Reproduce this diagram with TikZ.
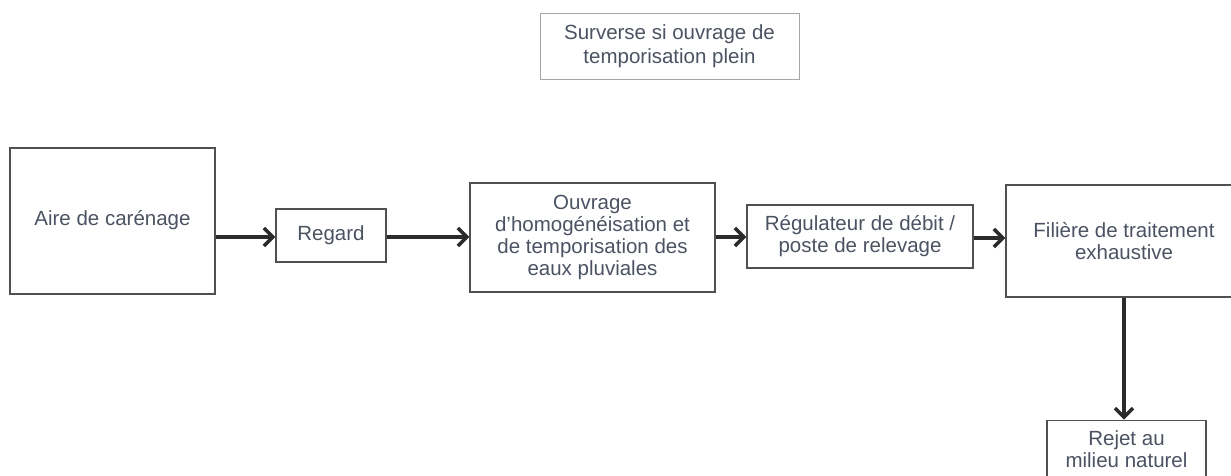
\documentclass[tikz,border=0pt]{standalone}
\usepackage{fontspec}
\setmainfont{Liberation Sans}
\usepackage{xcolor}
\usetikzlibrary{positioning, arrows.meta}

\definecolor{textgray}{HTML}{4B5262}
\definecolor{boxgray}{HTML}{505050}
\definecolor{arrowgray}{HTML}{2B2B2B}

\begin{document}
\begin{tikzpicture}[
		x=1pt, y=-1pt,
		% --- STYLES ---
		box/.style={
			rectangle, draw=boxgray, line width=1.3pt, inner sep=0pt, align=center,
			text=textgray, font=\fontsize{20.5}{22}\selectfont
		},
		notebox/.style={
			box, draw=gray!70, line width=0.9pt, font=\fontsize{20.5}{24.5}\selectfont
		},
		flow/.style={
			draw=arrowgray, line width=3.6pt, -{Straight Barb[length=9pt, width=18pt]}
		}
		]
		
		% page frame (picture is cut at the right and bottom)
		\clip (0,0) rectangle (1231,475);
		
		% ==========================================
		% 1. Overflow note
		% ==========================================
		\node [notebox, minimum width=259pt, minimum height=66pt] (surverse) at (669.5,46) {Surverse si ouvrage de\\temporisation plein};
		
		% ==========================================
		% 2. Main chain
		% ==========================================
		\node [box, minimum width=205pt, minimum height=146pt] (aire) at (112.5,221) {\raisebox{6pt}{Aire de carénage}};
		\node [box, minimum width=110pt, minimum height=53pt] (regard) at (331,235.5) {Regard};
		\node [box, minimum width=245pt, minimum height=109pt] (ouvrage) at (592.5,237.5) {Ouvrage\\d'homogénéisation et\\de temporisation des\\eaux pluviales};
		\node [box, minimum width=226pt, minimum height=63pt] (regulateur) at (860,236.5) {Régulateur de débit /\\poste de relevage};
		\node [box, minimum width=236pt, minimum height=112pt] (filiere) at (1124,241) {Filière de traitement\\exhaustive};
		
		\draw [flow] (aire.east |- 0,237) -- (regard.west |- 0,237);
		\draw [flow] (regard.east |- 0,237) -- (ouvrage.west |- 0,237);
		\draw [flow] (ouvrage.east |- 0,237) -- (regulateur.west |- 0,237);
		\draw [flow] (regulateur.east |- 0,238) -- (filiere.west |- 0,238);
		
		% ==========================================
		% 3. Discharge
		% ==========================================
		\node [box, minimum width=159pt, minimum height=58pt, below=122pt of filiere, xshift=2.5pt] (rejet) {Rejet au\\milieu naturel};
		\draw [flow] (filiere.south) -- (filiere.south |- rejet.north);
		
\end{tikzpicture}
\end{document}
